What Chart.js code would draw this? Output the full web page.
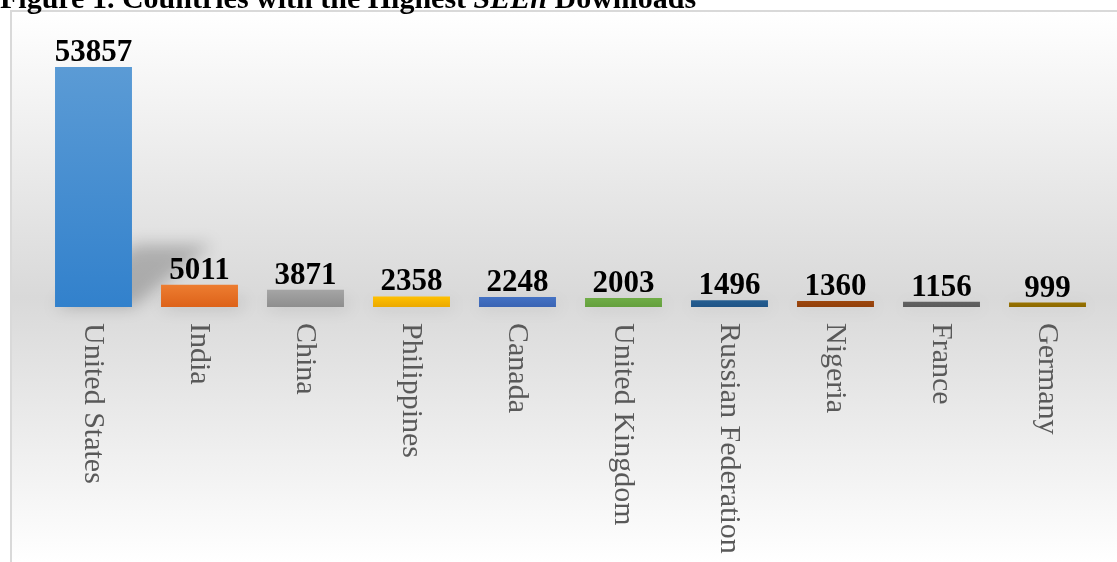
<!DOCTYPE html>
<html>
<head>
<meta charset="utf-8">
<script src="https://cdn.jsdelivr.net/npm/chart.js@4.4.1/dist/chart.umd.min.js"></script>
<style>
  html, body { margin: 0; padding: 0; background: #fff; overflow: hidden; }
  #wrap { position: relative; width: 1117px; height: 562px; }
  #title {
    position: absolute; left: 0; top: -19px; white-space: nowrap; line-height: normal;
    font: bold 30px "Liberation Serif", "Times New Roman", serif; color: #000;
  }
  #chart { position: absolute; left: 0; top: 0; }
</style>
</head>
<body>
<div id="wrap">
  <canvas id="chart" width="1117" height="562"></canvas>
  <div id="title">Figure 1. Countries with the Highest <i>SEEh</i> Downloads</div>
</div>
<script>
const countries = ["United States", "India", "China", "Philippines", "Canada",
  "United Kingdom", "Russian Federation", "Nigeria", "France", "Germany"];
const downloads = [53857, 5011, 3871, 2358, 2248, 2003, 1496, 1360, 1156, 999];
// light (top) / dark (bottom) per bar
const barTop = ["#5b9bd5", "#ed7d31", "#a5a5a5", "#ffc000", "#4472c4",
  "#70ad47", "#255e91", "#9e480e", "#636363", "#997300"];
const barBottom = ["#3281cc", "#dd6219", "#8e8e8e", "#eba900", "#3a64b4",
  "#64a03d", "#1f5486", "#913f0a", "#5a5a5a", "#8c6800"];

const $ = id => document.getElementById(id);

function barFill(c) {
  const chart = c.chart, i = c.dataIndex;
  if (!chart.chartArea) return barTop[i];
  const y = chart.scales.y;
  const top = y.getPixelForValue(downloads[i]);
  const base = y.getPixelForValue(0);
  const g = chart.ctx.createLinearGradient(0, top, 0, base);
  g.addColorStop(0, barTop[i]);
  g.addColorStop(1, barBottom[i]);
  return g;
}

const frame = {
  id: "frame",
  beforeDraw(chart) {
    const { ctx, width, height } = chart;
    const g = ctx.createLinearGradient(0, 11, 0, height);
    g.addColorStop(0, "#ffffff");
    g.addColorStop(0.52, "#d9d9d9");
    g.addColorStop(1, "#ffffff");
    ctx.save();
    ctx.fillStyle = g;
    ctx.fillRect(11, 11, width - 11, height - 11);
    ctx.strokeStyle = "#d9d9d9";
    ctx.lineWidth = 2;
    ctx.beginPath();
    ctx.moveTo(11, height);
    ctx.lineTo(11, 11);
    ctx.lineTo(width, 11);
    ctx.stroke();
    ctx.restore();
  },
  beforeDatasetsDraw(chart) {
    // soft perspective shadow cast to the right of each bar
    const ctx = chart.ctx;
    const bars = chart.getDatasetMeta(0).data;
    ctx.save();
    ctx.filter = "blur(8px)";
    ctx.fillStyle = "rgba(0,0,0,0.22)";
    bars.forEach(b => {
      const h = b.base - b.y;
      const half = b.width / 2;
      const sh = h * 0.26, dx = Math.min(h * 0.34, 80);
      ctx.beginPath();
      ctx.moveTo(b.x - half, b.base);
      ctx.lineTo(b.x + half, b.base);
      ctx.lineTo(b.x + half + dx, b.base - sh);
      ctx.lineTo(b.x - half + dx, b.base - sh);
      ctx.closePath();
      ctx.fill();
    });
    ctx.restore();
  },
  afterDatasetsDraw(chart) {
    const ctx = chart.ctx;
    const bars = chart.getDatasetMeta(0).data;
    ctx.save();
    ctx.fillStyle = "#000";
    ctx.font = "bold 31px 'Liberation Serif', serif";
    ctx.textAlign = "center";
    ctx.textBaseline = "alphabetic";
    bars.forEach((b, i) => ctx.fillText(String(downloads[i]), b.x, b.y - 6));

    ctx.fillStyle = "#595959";
    ctx.font = "30px 'Liberation Serif', serif";
    ctx.textAlign = "left";
    ctx.textBaseline = "middle";
    const x = chart.scales.x;
    countries.forEach((name, i) => {
      ctx.save();
      ctx.translate(x.getPixelForValue(i) - 1, 323);
      ctx.rotate(Math.PI / 2);
      ctx.fillText(name, 0, 0);
      ctx.restore();
    });
    ctx.restore();
  }
};

new Chart($("chart"), {
  type: "bar",
  data: {
    labels: countries,
    datasets: [{
      data: downloads,
      backgroundColor: barFill,
      borderWidth: 0,
      barPercentage: 0.726,
      categoryPercentage: 1,
    }],
  },
  options: {
    responsive: false,
    devicePixelRatio: 1,
    animation: false,
    layout: { padding: { left: 40.5, right: 16.5, top: 11, bottom: 255 } },
    plugins: { legend: { display: false }, tooltip: { enabled: false } },
    scales: {
      x: { display: false },
      y: { display: false, min: 0, max: 66424 },
    },
  },
  plugins: [frame],
});
</script>
</body>
</html>
